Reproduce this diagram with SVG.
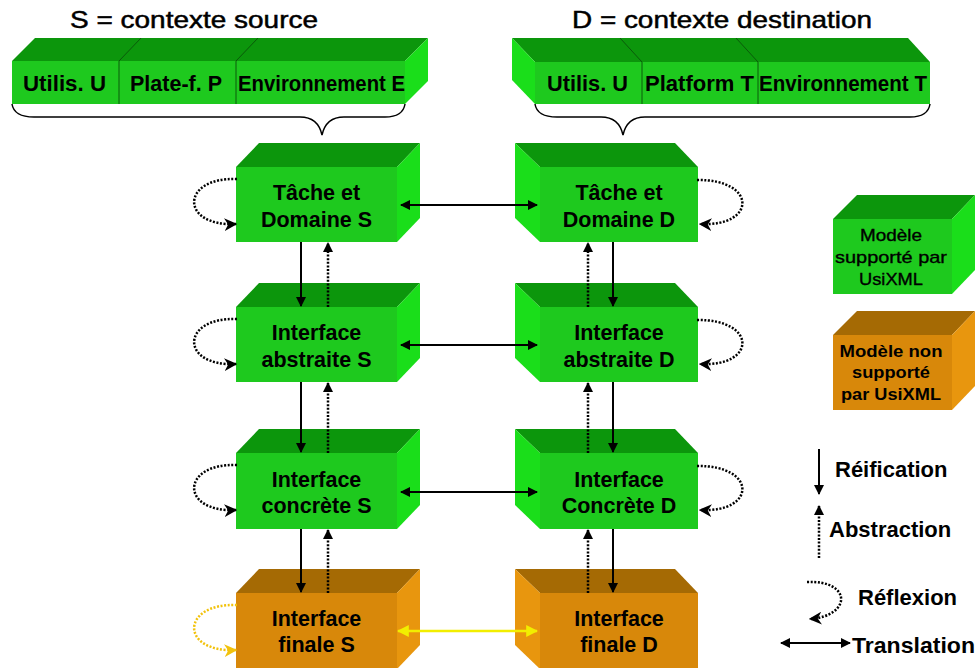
<svg xmlns="http://www.w3.org/2000/svg" width="976" height="668" viewBox="0 0 976 668">
<style>
.gf{fill:#1ec91e}.gt{fill:#0c960c}.gs{fill:#1ade1a}
.of{fill:#d8880a}.ot{fill:#a56a04}.os{fill:#e8960e}
.t{font-family:"Liberation Sans",Arial,sans-serif;font-weight:bold;font-size:21.5px;fill:#000;text-anchor:middle}
.c{font-family:"Liberation Sans",Arial,sans-serif;font-weight:bold;font-size:22px;fill:#000}
.ti{font-family:"Liberation Sans",Arial,sans-serif;font-size:24px;fill:#000;stroke:#000;stroke-width:0.5}
.lg{font-family:"Liberation Sans",Arial,sans-serif;font-weight:bold;font-size:22px;fill:#000}
.lb{font-family:"Liberation Sans",Arial,sans-serif;font-size:17px;fill:#000;stroke:#000;stroke-width:0.35;text-anchor:middle}
.lbo{font-family:"Liberation Sans",Arial,sans-serif;font-weight:bold;font-size:17px;fill:#000;text-anchor:middle}
.sol{stroke:#000;stroke-width:2;fill:none}
.dot{stroke:#000;stroke-width:2.5;stroke-dasharray:2 1.6;fill:none}
.ydot{stroke:#f2c20c;stroke-width:2.5;stroke-dasharray:2 1.6;fill:none}
.yl{stroke:#f2ee00;stroke-width:2.5;fill:none}
.div{stroke:#0a5a0a;stroke-width:1;fill:none}
.br{stroke:#000;stroke-width:1.5;fill:none}
</style>
<defs>
<marker id="ah" viewBox="0 0 10 10" refX="9" refY="5" markerWidth="10" markerHeight="10" markerUnits="userSpaceOnUse" orient="auto-start-reverse"><path d="M0,0 L10,5 L0,10 z" fill="#000"/></marker>
<marker id="ahr" viewBox="0 0 10 10" refX="9" refY="5" markerWidth="13" markerHeight="13" markerUnits="userSpaceOnUse" orient="auto"><path d="M0,0 L10,5 L0,10 L3,5 z" fill="#000"/></marker>
<marker id="ahy" viewBox="0 0 10 10" refX="9" refY="5" markerWidth="12" markerHeight="12" markerUnits="userSpaceOnUse" orient="auto-start-reverse"><path d="M0,0 L10,5 L0,10 z" fill="#f2ee00"/></marker>
<marker id="ahyr" viewBox="0 0 10 10" refX="9" refY="5" markerWidth="13" markerHeight="13" markerUnits="userSpaceOnUse" orient="auto"><path d="M0,0 L10,5 L0,10 L3,5 z" fill="#f2c20c"/></marker>
</defs>

<!-- Titles -->
<text class="ti" x="70" y="28" textLength="248" lengthAdjust="spacingAndGlyphs">S = contexte source</text>
<text class="ti" x="572" y="28" textLength="300" lengthAdjust="spacingAndGlyphs">D = contexte destination</text>

<!-- Source context -->
<g id="ctxS">
<polygon class="gt" points="12,61 35,38 428,38 405,61"/>
<polygon class="gs" points="405,61 428,38 428,81 405,104"/>
<rect class="gf" x="12" y="61" width="393" height="43"/>
<path class="div" d="M119,104 V61 L141,38 M236,104 V61 L258,38"/>
<text class="c" x="23" y="91" textLength="83" lengthAdjust="spacingAndGlyphs">Utilis. U</text>
<text class="c" x="130" y="91" textLength="92" lengthAdjust="spacingAndGlyphs">Plate-f. P</text>
<text class="c" x="238" y="91" textLength="167" lengthAdjust="spacingAndGlyphs">Environnement E</text>
<path class="br" d="M12,104 Q14,117 34,117 L300,117 Q318,117 322,135 Q326,117 344,117 L385,117 Q403,117 405,104"/>
</g>

<!-- Destination context -->
<g id="ctxD">
<polygon class="gt" points="535,62 512,38 908,38 930,62"/>
<polygon class="gs" points="535,62 512,38 512,80 535,104"/>
<rect class="gf" x="535" y="62" width="395" height="42"/>
<path class="div" d="M642,104 V62 L620,38 M758,104 V62 L736,38"/>
<text class="c" x="547" y="91" textLength="81" lengthAdjust="spacingAndGlyphs">Utilis. U</text>
<text class="c" x="645" y="91" textLength="109" lengthAdjust="spacingAndGlyphs">Platform T</text>
<text class="c" x="759" y="91" textLength="168" lengthAdjust="spacingAndGlyphs">Environnement T</text>
<path class="br" d="M535,104 Q537,117 557,117 L601,117 Q619,117 623,135 Q627,117 645,117 L910,117 Q928,117 930,104"/>
</g>

<!-- S column nodes -->
<g id="tacheS">
<polygon class="gt" points="236,167 259,143 420,143 397,167"/>
<polygon class="gs" points="397,167 420,143 420,218 397,242"/>
<rect class="gf" x="236" y="167" width="161" height="75"/>
<text class="t" x="316.5" y="200">Tâche et</text>
<text class="t" x="316.5" y="227">Domaine S</text>
</g>
<g id="abstraiteS">
<polygon class="gt" points="236,307 259,283 420,283 397,307"/>
<polygon class="gs" points="397,307 420,283 420,358 397,382"/>
<rect class="gf" x="236" y="307" width="161" height="75"/>
<text class="t" x="316.5" y="340">Interface</text>
<text class="t" x="316.5" y="367">abstraite S</text>
</g>
<g id="concreteS">
<polygon class="gt" points="236,453 259,429 420,429 397,453"/>
<polygon class="gs" points="397,453 420,429 420,505 397,529"/>
<rect class="gf" x="236" y="453" width="161" height="76"/>
<text class="t" x="316.5" y="487">Interface</text>
<text class="t" x="316.5" y="513">concrète S</text>
</g>
<g id="finaleS">
<polygon class="ot" points="236,593 259,569 420,569 397,593"/>
<polygon class="os" points="397,593 420,569 420,645 397,669"/>
<rect class="of" x="236" y="593" width="161" height="76"/>
<text class="t" x="316.5" y="626">Interface</text>
<text class="t" x="316.5" y="652">finale S</text>
</g>

<!-- D column nodes -->
<g id="tacheD">
<polygon class="gt" points="540,167 515,143 675,143 698,167"/>
<polygon class="gs" points="540,167 515,143 515,218 540,242"/>
<rect class="gf" x="540" y="167" width="158" height="75"/>
<text class="t" x="619" y="200">Tâche et</text>
<text class="t" x="619" y="227">Domaine D</text>
</g>
<g id="abstraiteD">
<polygon class="gt" points="540,307 515,283 675,283 698,307"/>
<polygon class="gs" points="540,307 515,283 515,358 540,382"/>
<rect class="gf" x="540" y="307" width="158" height="75"/>
<text class="t" x="619" y="340">Interface</text>
<text class="t" x="619" y="367">abstraite D</text>
</g>
<g id="concreteD">
<polygon class="gt" points="540,453 515,429 675,429 698,453"/>
<polygon class="gs" points="540,453 515,429 515,505 540,529"/>
<rect class="gf" x="540" y="453" width="158" height="76"/>
<text class="t" x="619" y="487">Interface</text>
<text class="t" x="619" y="513">Concrète D</text>
</g>
<g id="finaleD">
<polygon class="ot" points="540,593 515,569 675,569 698,593"/>
<polygon class="os" points="540,593 515,569 515,645 540,669"/>
<rect class="of" x="540" y="593" width="158" height="76"/>
<text class="t" x="619" y="626">Interface</text>
<text class="t" x="619" y="652">finale D</text>
</g>

<!-- Connectors -->
<g id="connectors">
<path class="sol" d="M301,242 V306" marker-end="url(#ah)"/>
<path class="sol" d="M301,382 V452" marker-end="url(#ah)"/>
<path class="sol" d="M301,529 V592" marker-end="url(#ah)"/>
<path class="sol" d="M613,242 V306" marker-end="url(#ah)"/>
<path class="sol" d="M613,382 V452" marker-end="url(#ah)"/>
<path class="sol" d="M613,529 V592" marker-end="url(#ah)"/>
<path class="dot" d="M328,307 V243" marker-end="url(#ah)"/>
<path class="dot" d="M328,453 V383" marker-end="url(#ah)"/>
<path class="dot" d="M328,593 V530" marker-end="url(#ah)"/>
<path class="dot" d="M588,307 V243" marker-end="url(#ah)"/>
<path class="dot" d="M588,453 V383" marker-end="url(#ah)"/>
<path class="dot" d="M588,593 V530" marker-end="url(#ah)"/>
<path class="sol" d="M401,205 H537" marker-start="url(#ah)" marker-end="url(#ah)"/>
<path class="sol" d="M401,345 H537" marker-start="url(#ah)" marker-end="url(#ah)"/>
<path class="sol" d="M401,492 H537" marker-start="url(#ah)" marker-end="url(#ah)"/>
<path class="yl" d="M398,631 H537" marker-start="url(#ahy)" marker-end="url(#ahy)"/>
<path class="dot" d="M237,179 C180,177 180,227 236,224" marker-end="url(#ahr)"/>
<path class="dot" d="M237,319 C180,317 180,367 236,364" marker-end="url(#ahr)"/>
<path class="dot" d="M237,465 C180,463 180,513 236,510" marker-end="url(#ahr)"/>
<path class="ydot" d="M237,605 C180,603 180,653 236,650" marker-end="url(#ahyr)"/>
<path class="dot" d="M697,180 C757,179 757,227 700,224" marker-end="url(#ahr)"/>
<path class="dot" d="M697,320 C757,319 757,367 700,364" marker-end="url(#ahr)"/>
<path class="dot" d="M697,466 C757,465 757,513 700,510" marker-end="url(#ahr)"/>
<path class="sol" d="M819,449 V494" marker-end="url(#ah)"/>
<path class="dot" d="M819,558 V506" marker-end="url(#ah)"/>
<path class="dot" d="M807,582 C852,580 852,616 810,619" marker-end="url(#ahr)"/>
<path class="sol" d="M781,643 H850" marker-start="url(#ah)" marker-end="url(#ah)"/>
</g>

<!-- Legend -->
<g id="legendGreen">
<polygon class="gt" points="833,219 857,195 975,195 952,219"/>
<polygon class="gs" points="952,219 975,195 975,270 952,294"/>
<rect class="gf" x="833" y="219" width="119" height="75"/>
<text class="lb" x="891" y="241" textLength="62" lengthAdjust="spacingAndGlyphs">Modèle</text>
<text class="lb" x="891" y="263" textLength="112" lengthAdjust="spacingAndGlyphs">supporté par</text>
<text class="lb" x="891" y="285" textLength="64" lengthAdjust="spacingAndGlyphs">UsiXML</text>
</g>
<g id="legendOrange">
<polygon class="ot" points="833,335 857,311 975,311 952,335"/>
<polygon class="os" points="952,335 975,311 975,386 952,410"/>
<rect class="of" x="833" y="335" width="119" height="75"/>
<text class="lbo" x="891" y="357" textLength="103" lengthAdjust="spacingAndGlyphs">Modèle non</text>
<text class="lbo" x="891" y="378" textLength="78" lengthAdjust="spacingAndGlyphs">supporté</text>
<text class="lbo" x="891" y="400" textLength="100" lengthAdjust="spacingAndGlyphs">par UsiXML</text>
</g>
<g id="legendText">
<text class="lg" x="835" y="477">Réification</text>
<text class="lg" x="829" y="537">Abstraction</text>
<text class="lg" x="858" y="605">Réflexion</text>
<text class="lg" x="852" y="653" textLength="123" lengthAdjust="spacingAndGlyphs">Translation</text>
</g>
</svg>
